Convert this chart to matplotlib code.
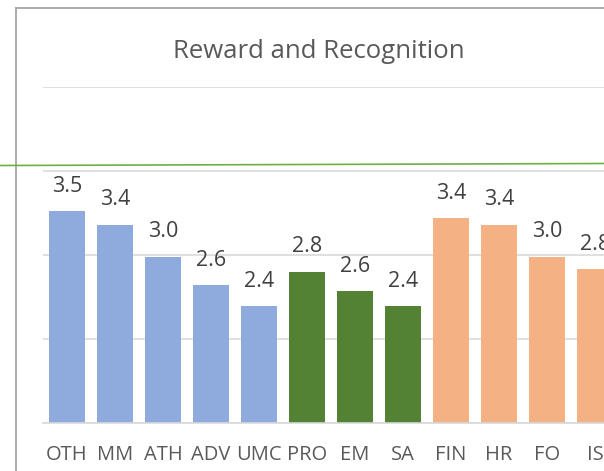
import matplotlib.pyplot as plt
from matplotlib.lines import Line2D

# data
cats = ['OTH', 'MM', 'ATH', 'ADV', 'UMC', 'PRO', 'EM', 'SA', 'FIN', 'HR', 'FO', 'IS']
vals = [3.52, 3.36, 2.98, 2.64, 2.39, 2.80, 2.57, 2.39, 3.44, 3.36, 2.98, 2.83]
groups = ['a'] * 5 + ['b'] * 3 + ['c'] * 4
group_colors = {'a': '#8FAADC', 'b': '#548235', 'c': '#F4B183'}

plt.rcParams['font.family'] = ['Open Sans', 'DejaVu Sans']

W, H = 604, 471
fig = plt.figure(figsize=(W / 100, H / 100), dpi=100)
ax = fig.add_axes([43 / W, (H - 423) / H, 1 - 43 / W, (423 - 87) / H])

x = list(range(len(cats)))
ax.bar(x, vals, width=0.73, color=[group_colors[g] for g in groups], zorder=2)

for xi, v in zip(x, vals):
    ax.annotate('%.1f' % v, (xi, v), xytext=(0, 14), textcoords='offset points',
                ha='center', va='baseline', fontsize=15.5, color='#404040',
                annotation_clip=False)

ax.set_ylim(1, 5)
ax.set_xlim(-0.5, (W - 43) / 48 - 0.5)
ax.set_yticks([1, 2, 3, 4, 5])
ax.set_yticklabels([])
ax.tick_params(axis='y', length=0)
ax.grid(axis='y', color='#D9D9D9', linewidth=1.2, zorder=0)
ax.set_xticks(x)
ax.set_xticklabels(cats, fontsize=14.5, color='#595959')
ax.tick_params(axis='x', length=0, pad=16)
for s in ['top', 'right', 'left']:
    ax.spines[s].set_visible(False)
ax.spines['bottom'].set_color('#D9D9D9')
ax.spines['bottom'].set_linewidth(1.2)

fig.text(319 / W, 1 - 58 / H, 'Reward and Recognition', ha='center', va='baseline',
         fontsize=18.5, color='#595959')

# chart frame (left and top edges)
fig.add_artist(Line2D([16 / W, 16 / W], [0, 1 - 8 / H], color='#A6A6A6', linewidth=1.3,
                      transform=fig.transFigure))
fig.add_artist(Line2D([16 / W, 1], [1 - 8 / H, 1 - 8 / H], color='#A6A6A6', linewidth=1.3,
                      transform=fig.transFigure))
# green overlay line
fig.add_artist(Line2D([0, 1], [1 - 165.5 / H, 1 - 163.5 / H], color='#70AD47', linewidth=1.2,
                      transform=fig.transFigure))

fig.savefig('out.png', dpi=100)
